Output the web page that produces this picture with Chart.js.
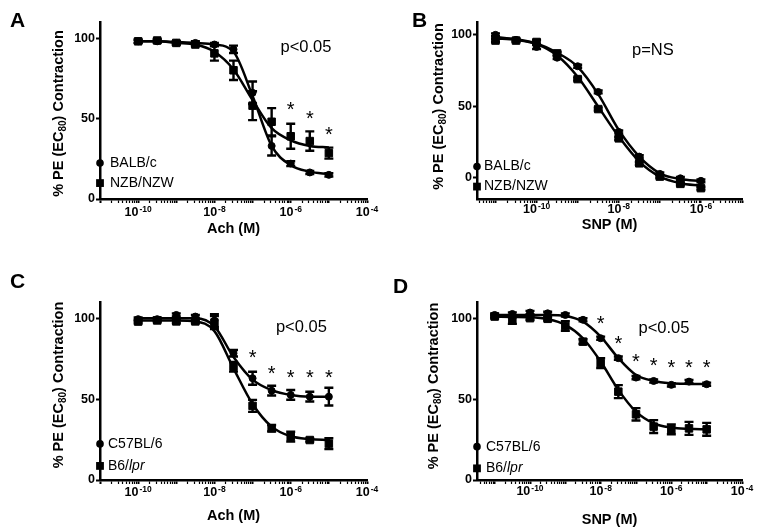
<!DOCTYPE html>
<html>
<head>
<meta charset="utf-8">
<script src="https://cdn.jsdelivr.net/npm/chart.js@4.4.0/dist/chart.umd.min.js"></script>
<style>
    body { margin: 0; background: #fff; width: 762px; height: 529px; position: relative; overflow: hidden; }
    canvas { position: absolute; }
</style>
</head>
<body>
<canvas id="pA" width="381" height="265" style="left:0;top:0"></canvas>
<canvas id="pB" width="381" height="265" style="left:381px;top:0"></canvas>
<canvas id="pC" width="381" height="264" style="left:0;top:265px"></canvas>
<canvas id="pD" width="381" height="264" style="left:381px;top:265px"></canvas>
<script>
// 剂量用 log10(M) 表示

// A: Ach, BALB/c vs NZB/NZW
const achDosesA = [-10, -9.5, -9, -8.5, -8, -7.5, -7, -6.5, -6, -5.5, -5];
const balbAchMean = [98, 98, 97, 97, 96, 93, 66, 33, 22, 16.5, 15];
const balbAchErr = [1, 1, 1, 1, 1, 2.3, 7, 6, 1.5, 1, 1];
const balbAchFit = [98, 98, 97.5, 97, 96, 91.5, 64, 33, 21, 17, 15.5];
const nzbAchMean = [98, 98.5, 97, 96, 90.5, 80, 58, 48, 39, 36, 28.5];
const nzbAchErr = [1, 1, 1, 1, 4.5, 6, 9, 8.5, 7.8, 6, 3.4];
const nzbAchFit = [98, 98, 97, 96, 91.5, 80.5, 61.5, 44, 36.5, 33, 32];
const starXA = [-6, -5.5, -5];
const starYA = [58.4, 52.8, 43.3];

// B: SNP, BALB/c vs NZB/NZW
const snpDosesB = [-11, -10.5, -10, -9.5, -9, -8.5, -8, -7.5, -7, -6.5, -6];
const balbSnpMean = [100, 96.5, 91.5, 84, 78, 60, 32, 14.7, 2.6, -0.5, -2.3];
const balbSnpErr = [1, 1, 1.5, 1, 1, 1, 1, 1, 1, 1, 1];
const balbSnpFit = [98.5, 97, 94, 87.5, 77.6, 58.5, 33.4, 14.7, 3, -1, -2.5];
const nzbSnpMean = [96, 96, 95, 87, 69, 48, 27.5, 10, 0.7, -4.4, -7.4];
const nzbSnpErr = [1, 1, 1.5, 1, 1, 1, 1, 1, 1, 1, 1];
const nzbSnpFit = [97.5, 96.5, 93.5, 85.5, 70.6, 49.7, 28.7, 11.2, 0.7, -3.9, -5.6];

// C: Ach, C57BL/6 vs B6/lpr
const achDosesC = [-10, -9.5, -9, -8.5, -8, -7.5, -7, -6.5, -6, -5.5, -5];
const c57AchMean = [99.4, 99.4, 102, 101, 98.5, 78.3, 62.9, 55.2, 52.6, 51.5, 51.5];
const c57AchErr = [1, 1, 1, 1, 4, 2, 4, 3, 3, 3, 5.5];
const c57AchFit = [100, 100, 100, 100, 95, 76, 62, 55.5, 52.5, 51.5, 51.5];
const lprAchMean = [97.9, 98.6, 98, 98, 97.3, 70, 45.8, 32, 26.8, 24.7, 22.5];
const lprAchErr = [1, 1, 1, 1, 4, 3, 3.7, 2, 3, 1, 3.3];
const lprAchFit = [98.5, 98.5, 98.5, 98, 92, 69, 47, 33, 27, 25.3, 24.7];
const starXC = [-7, -6.5, -6, -5.5, -5];
const starYC = [78.7, 69, 66.4, 66.4, 66.4];

// D: SNP, C57BL/6 vs B6/lpr
const snpDosesD = [-11, -10.5, -10, -9.5, -9, -8.5, -8, -7.5, -7, -6.5, -6, -5.5, -5];
const c57SnpMean = [102, 102.6, 103.5, 103, 102, 99, 87.6, 75.3, 63.3, 61.2, 58.8, 60.8, 59.2];
const c57SnpErr = [1, 1, 1, 1, 1, 1, 1, 1, 1, 1, 1, 1, 1];
const c57SnpFit = [102, 102, 102, 102, 101.4, 97.9, 88.6, 75.3, 64.9, 61.2, 59.8, 59.4, 59.2];
const lprSnpMean = [101, 98.5, 100, 99.6, 95.2, 85.5, 72.2, 54.6, 40.6, 33, 31.3, 31.9, 31.3];
const lprSnpErr = [1, 2, 1, 1, 3, 1.5, 3, 4, 3.8, 4, 3, 4, 4];
const lprSnpFit = [101, 100.8, 100.6, 99.4, 95.9, 87.6, 73.2, 55.7, 42.2, 35, 32.4, 31.6, 31.3];
const starXD = [-8, -7.5, -7, -6.5, -6, -5.5, -5];
const starYD = [100, 87.6, 76.3, 73.8, 72.5, 72.5, 72.5];

// 刻度
const xTickExpsAch = [-10, -8, -6, -4];
const xTickExpsSnp = [-10, -8, -6];
const xTickExpsSnpD = [-10, -8, -6, -4];
const yTickValues = [0, 50, 100];

const FONT = '"Liberation Sans", Arial, Helvetica, sans-serif';

// 各面板布局
const panels = [
    {
        id: 'pA', letter: 'A', letterPos: [10, 27],
        x: achDosesA,
        series: [
            { mean: balbAchMean, err: balbAchErr, fit: balbAchFit, style: 'circle' },
            { mean: nzbAchMean, err: nzbAchErr, fit: nzbAchFit, style: 'rect' }
        ],
        legend: [['BALB/c', ''], ['NZB/NZW', '']], legendY: [22.4, 9.9], legendDx: 10,
        xmin: -11, xmax: -4, ymin: 0, ymax: 110, yw: 100, xh: 66, top: 22, right: 14,
        xTitle: 'Ach (M)', xTitleDy: 34, xTickDy: 17, yTitlePos: [58, 113.5],
        pText: 'p<0.05', pPos: [-5.6, 91.1], starX: starXA, starY: starYA, xTicks: xTickExpsAch
    },
    {
        id: 'pB', letter: 'B', letterPos: [31, 27],
        x: snpDosesB,
        series: [
            { mean: balbSnpMean, err: balbSnpErr, fit: balbSnpFit, style: 'circle' },
            { mean: nzbSnpMean, err: nzbSnpErr, fit: nzbSnpFit, style: 'rect' }
        ],
        legend: [['BALB/c', ''], ['NZB/NZW', '']], legendY: [7.7, -6.3], legendDx: 7,
        xmin: -11.45, xmax: -5, ymin: -15, ymax: 109, yw: 96, xh: 66, top: 22, right: 20,
        xTitle: 'SNP (M)', xTitleDy: 30, xTickDy: 14, yTitlePos: [56.5, 106.5],
        pText: 'p=NS', pPos: [-7.17, 85.8], starX: [], starY: [], xTicks: xTickExpsSnp
    },
    {
        id: 'pC', letter: 'C', letterPos: [10, 23],
        x: achDosesC,
        series: [
            { mean: c57AchMean, err: c57AchErr, fit: c57AchFit, style: 'circle' },
            { mean: lprAchMean, err: lprAchErr, fit: lprAchFit, style: 'rect' }
        ],
        legend: [['C57BL/6', ''], ['B6/', 'lpr']], legendY: [22.3, 8.7], legendDx: 8,
        xmin: -11, xmax: -4, ymin: 0, ymax: 110, yw: 100, xh: 49, top: 37, right: 14,
        xTitle: 'Ach (M)', xTitleDy: 40, xTickDy: 16, yTitlePos: [58, 120],
        pText: 'p<0.05', pPos: [-5.72, 91.3], starX: starXC, starY: starYC, xTicks: xTickExpsAch
    },
    {
        id: 'pD', letter: 'D', letterPos: [12, 28],
        x: snpDosesD,
        series: [
            { mean: c57SnpMean, err: c57SnpErr, fit: c57SnpFit, style: 'circle' },
            { mean: lprSnpMean, err: lprSnpErr, fit: lprSnpFit, style: 'rect' }
        ],
        legend: [['C57BL/6', ''], ['B6/', 'lpr']], legendY: [20.6, 7.2], legendDx: 9,
        xmin: -11.5, xmax: -4, ymin: 0, ymax: 110, yw: 96, xh: 49, top: 37, right: 20,
        xTitle: 'SNP (M)', xTitleDy: 44, xTickDy: 14.5, yTitlePos: [52, 121],
        pText: 'p<0.05', pPos: [-6.21, 90.9], starX: starXD, starY: starYD, xTicks: xTickExpsSnpD
    }
];

function drawMarker(ctx, style, x, y) {
    ctx.fillStyle = '#000';
    if (style === 'circle') {
        ctx.beginPath();
        ctx.arc(x, y, 3.8, 0, Math.PI * 2);
        ctx.fill();
    } else {
        ctx.fillRect(x - 3.9, y - 3.9, 7.8, 7.8);
    }
}

function drawYTitle(ctx, cx, cy) {
    const parts = [['% PE (EC', 14.5, 0], ['80', 10, 3], [') Contraction', 14.5, 0]];
    let total = 0;
    parts.forEach(p => {
        ctx.font = 'bold ' + p[1] + 'px ' + FONT;
        p.push(ctx.measureText(p[0]).width);
        total += p[3];
    });
    ctx.save();
    ctx.translate(cx, cy);
    ctx.rotate(-Math.PI / 2);
    ctx.textAlign = 'left';
    ctx.textBaseline = 'alphabetic';
    let x = -total / 2;
    parts.forEach(p => {
        ctx.font = 'bold ' + p[1] + 'px ' + FONT;
        ctx.fillText(p[0], x, 5.2 + p[2]);
        x += p[3];
    });
    ctx.restore();
}

function drawPowerLabel(ctx, cx, y, exp) {
    ctx.textAlign = 'left';
    ctx.textBaseline = 'alphabetic';
    ctx.font = 'bold 12.5px ' + FONT;
    const w1 = ctx.measureText('10').width;
    ctx.font = 'bold 8.5px ' + FONT;
    const expStr = String(exp);
    const w2 = ctx.measureText(expStr).width;
    const x0 = cx - (w1 + w2 + 1) / 2;
    ctx.font = 'bold 12.5px ' + FONT;
    ctx.fillText('10', x0, y);
    ctx.font = 'bold 8.5px ' + FONT;
    ctx.fillText(expStr, x0 + w1 + 1, y - 4);
}

function panelPlugin(p) {
    return {
        id: 'panelDeco',
        afterDatasetsDraw(chart) {
            const ctx = chart.ctx;
            const xs = chart.scales.x, ys = chart.scales.y;
            // 误差线
            ctx.save();
            ctx.strokeStyle = '#000';
            ctx.lineWidth = 2.4;
            p.series.forEach(s => {
                p.x.forEach((xv, i) => {
                    const px = xs.getPixelForValue(xv);
                    const y1 = ys.getPixelForValue(s.mean[i] + s.err[i]);
                    const y2 = ys.getPixelForValue(s.mean[i] - s.err[i]);
                    ctx.beginPath();
                    ctx.moveTo(px, y1); ctx.lineTo(px, y2);
                    ctx.moveTo(px - 4.5, y1); ctx.lineTo(px + 4.5, y1);
                    ctx.moveTo(px - 4.5, y2); ctx.lineTo(px + 4.5, y2);
                    ctx.stroke();
                });
            });
            ctx.restore();
        },
        afterDraw(chart) {
            const ctx = chart.ctx;
            const xs = chart.scales.x, ys = chart.scales.y;
            const area = chart.chartArea;
            ctx.save();
            ctx.fillStyle = '#000';

            // 面板字母
            ctx.font = 'bold 21px ' + FONT;
            ctx.textAlign = 'left';
            ctx.textBaseline = 'alphabetic';
            ctx.fillText(p.letter, p.letterPos[0], p.letterPos[1]);

            // x 轴刻度标签
            p.xTicks.forEach(e => {
                drawPowerLabel(ctx, xs.getPixelForValue(e), area.bottom + p.xTickDy, e);
            });

            // 轴标题
            ctx.font = 'bold 14.5px ' + FONT;
            ctx.textAlign = 'center';
            ctx.fillText(p.xTitle, (area.left + area.right) / 2, area.bottom + p.xTitleDy);
            drawYTitle(ctx, p.yTitlePos[0], p.yTitlePos[1]);

            // p 值
            ctx.font = '16.5px ' + FONT;
            ctx.textAlign = 'center';
            ctx.fillText(p.pText, xs.getPixelForValue(p.pPos[0]), ys.getPixelForValue(p.pPos[1]));

            // 星号
            ctx.font = '20px ' + FONT;
            p.starX.forEach((sx, i) => {
                ctx.fillText('*', xs.getPixelForValue(sx), ys.getPixelForValue(p.starY[i]) + 11.4);
            });

            // 图例
            p.legend.forEach((lab, i) => {
                const ly = ys.getPixelForValue(p.legendY[i]);
                drawMarker(ctx, p.series[i].style, area.left, ly);
                ctx.textAlign = 'left';
                ctx.textBaseline = 'middle';
                ctx.font = '14px ' + FONT;
                const tx = area.left + p.legendDx;
                ctx.fillText(lab[0], tx, ly);
                if (lab[1]) {
                    const w = ctx.measureText(lab[0]).width;
                    ctx.font = 'italic 14px ' + FONT;
                    ctx.fillText(lab[1], tx + w, ly);
                }
            });
            ctx.restore();
        }
    };
}

function makePanel(p) {
    const datasets = [];
    p.series.forEach(s => {
        // 拟合曲线
        datasets.push({
            data: p.x.map((xv, i) => ({ x: xv, y: s.fit[i] })),
            borderColor: '#000',
            borderWidth: 2.5,
            pointRadius: 0,
            cubicInterpolationMode: 'monotone',
            fill: false
        });
        // 数据点
        datasets.push({
            data: p.x.map((xv, i) => ({ x: xv, y: s.mean[i] })),
            showLine: false,
            pointStyle: s.style,
            pointRadius: s.style === 'circle' ? 3.5 : 5.3,
            pointBorderWidth: 1,
            pointBackgroundColor: '#000',
            pointBorderColor: '#000'
        });
    });

    new Chart(document.getElementById(p.id), {
        type: 'line',
        data: { datasets },
        options: {
            responsive: false,
            animation: false,
            layout: { padding: { top: p.top, right: p.right, left: 0, bottom: 0 } },
            plugins: { legend: { display: false }, tooltip: { enabled: false } },
            scales: {
                x: {
                    type: 'linear',
                    min: p.xmin,
                    max: p.xmax,
                    afterFit: scale => { scale.height = p.xh; },
                    afterBuildTicks: scale => {
                        const ticks = [];
                        for (let n = Math.floor(p.xmin); n <= Math.ceil(p.xmax); n++) {
                            for (let k = 1; k <= 9; k++) {
                                const v = n + Math.log10(k);
                                if (v >= p.xmin - 1e-9 && v <= p.xmax + 1e-9) ticks.push({ value: v, major: k === 1 });
                            }
                        }
                        scale.ticks = ticks;
                    },
                    grid: {
                        drawOnChartArea: false,
                        drawTicks: true,
                        tickLength: 4,
                        tickColor: '#000',
                        tickWidth: c => (c.tick && c.tick.major ? 2 : 1.2)
                    },
                    border: { color: '#000', width: 2.5 },
                    ticks: { display: false, autoSkip: false }
                },
                y: {
                    min: p.ymin,
                    max: p.ymax,
                    afterFit: scale => { scale.width = p.yw; },
                    afterBuildTicks: scale => {
                        scale.ticks = yTickValues.map(v => ({ value: v }));
                    },
                    grid: {
                        drawOnChartArea: false,
                        drawTicks: true,
                        tickLength: 4,
                        tickColor: '#000',
                        tickWidth: 2
                    },
                    border: { color: '#000', width: 2.5 },
                    ticks: {
                        color: '#000',
                        padding: 1,
                        autoSkip: false,
                        font: { family: FONT, size: 12.5, weight: 'bold' }
                    }
                }
            }
        },
        plugins: [panelPlugin(p)]
    });
}

panels.forEach(makePanel);
</script>
</body>
</html>
